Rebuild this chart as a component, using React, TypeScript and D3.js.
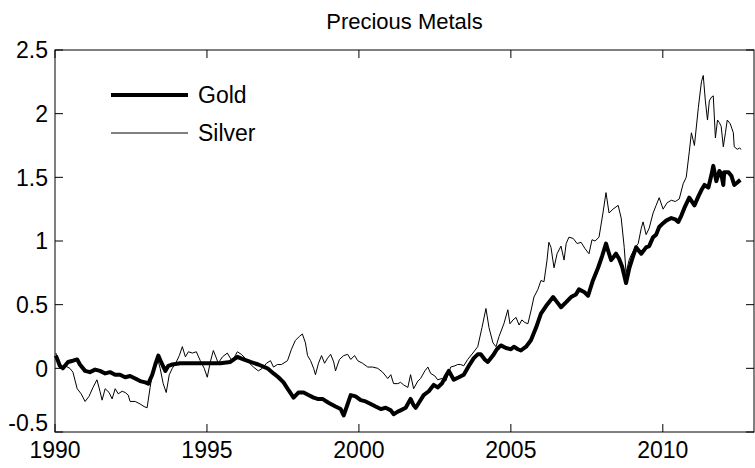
import { scaleLinear, line as d3_line, range } from "d3";

// Log price index (decimal year, value)
const goldYears = [
  1990.03, 1990.16, 1990.26, 1990.43, 1990.59, 1990.73, 1990.82, 1990.99, 1991.15, 1991.32,
  1991.48, 1991.65, 1991.81, 1991.98, 1992.14, 1992.31, 1992.47, 1992.64, 1992.8, 1992.97,
  1993.07, 1993.2, 1993.3, 1993.4, 1993.49, 1993.63, 1993.73, 1993.86, 1994.12, 1994.45,
  1994.78, 1995.11, 1995.44, 1995.77, 1996.0, 1996.2, 1996.43, 1996.69, 1996.99, 1997.19,
  1997.35, 1997.52, 1997.68, 1997.85, 1998.01, 1998.18, 1998.34, 1998.51, 1998.64, 1998.8,
  1999.0, 1999.23, 1999.4, 1999.5, 1999.63, 1999.73, 1999.89, 2000.06, 2000.22, 2000.39,
  2000.55, 2000.72, 2000.88, 2001.05, 2001.14, 2001.28, 2001.37, 2001.54, 2001.7, 2001.8,
  2001.87, 2002.0, 2002.13, 2002.3, 2002.46, 2002.59, 2002.73, 2002.86, 2002.96, 2003.12,
  2003.29, 2003.45, 2003.62, 2003.78, 2003.91, 2004.01, 2004.14, 2004.24, 2004.41, 2004.54,
  2004.67, 2004.84, 2005.0, 2005.1, 2005.23, 2005.33, 2005.5, 2005.66, 2005.83, 2005.99,
  2006.19, 2006.39, 2006.52, 2006.65, 2006.82, 2006.98, 2007.14, 2007.24, 2007.41, 2007.54,
  2007.7, 2007.87, 2008.0, 2008.13, 2008.23, 2008.3, 2008.4, 2008.46, 2008.56, 2008.66,
  2008.79, 2008.89, 2009.02, 2009.12, 2009.29, 2009.45, 2009.55, 2009.68, 2009.78, 2009.88,
  2010.01, 2010.11, 2010.28, 2010.41, 2010.51, 2010.61, 2010.71, 2010.87, 2011.04, 2011.17,
  2011.27, 2011.37, 2011.5, 2011.6, 2011.66, 2011.76, 2011.86, 2011.92, 2011.99, 2012.02,
  2012.16, 2012.26, 2012.35, 2012.45, 2012.55,
];
const goldValues = [
  0.1, 0.02, 0.0, 0.05, 0.06, 0.07, 0.03, -0.02, -0.03, -0.01,
  -0.02, -0.04, -0.03, -0.05, -0.05, -0.07, -0.06, -0.08, -0.1, -0.11,
  -0.12, -0.05, 0.03, 0.1, 0.05, -0.02, 0.02, 0.03, 0.04, 0.04,
  0.04, 0.04, 0.04, 0.05, 0.09, 0.07, 0.05, 0.03, 0.0, -0.04,
  -0.07, -0.11, -0.17, -0.23, -0.19, -0.19, -0.21, -0.23, -0.24, -0.24,
  -0.27, -0.3, -0.32, -0.37, -0.28, -0.21, -0.22, -0.25, -0.26, -0.28,
  -0.3, -0.32, -0.31, -0.33, -0.36, -0.34, -0.33, -0.31, -0.24, -0.29,
  -0.31, -0.26, -0.21, -0.18, -0.13, -0.15, -0.12, -0.06, -0.02, -0.09,
  -0.07, -0.05, 0.02, 0.08, 0.11, 0.11, 0.07, 0.05, 0.1, 0.15,
  0.18, 0.16, 0.15, 0.17, 0.15, 0.14, 0.17, 0.22, 0.32, 0.43,
  0.5, 0.56, 0.52, 0.48, 0.52, 0.56, 0.58, 0.62, 0.6, 0.57,
  0.69, 0.79, 0.88, 0.98, 0.9, 0.85, 0.88, 0.9, 0.86, 0.8,
  0.67, 0.78, 0.88, 0.95, 0.9, 0.95, 0.96, 1.03, 1.05, 1.11,
  1.14, 1.16, 1.18, 1.17, 1.15, 1.2, 1.26, 1.34, 1.28, 1.35,
  1.4, 1.44, 1.42, 1.52, 1.59, 1.47, 1.55, 1.53, 1.44, 1.54,
  1.54, 1.51, 1.44, 1.46, 1.48,
];

const silverYears = [
  1990.03, 1990.16, 1990.33, 1990.49, 1990.59, 1990.73, 1990.86, 1990.99, 1991.12, 1991.25,
  1991.38, 1991.48, 1991.55, 1991.65, 1991.78, 1991.88, 1991.98, 1992.08, 1992.21, 1992.31,
  1992.41, 1992.47, 1992.64, 1992.8, 1992.93, 1993.03, 1993.13, 1993.23, 1993.36, 1993.46,
  1993.56, 1993.66, 1993.76, 1993.86, 1993.99, 1994.09, 1994.19, 1994.29, 1994.39, 1994.52,
  1994.65, 1994.78, 1994.91, 1995.01, 1995.11, 1995.21, 1995.31, 1995.37, 1995.51, 1995.67,
  1995.77, 1995.84, 1995.93, 1996.0, 1996.13, 1996.26, 1996.4, 1996.53, 1996.69, 1996.82,
  1996.96, 1997.09, 1997.19, 1997.32, 1997.45, 1997.65, 1997.78, 1997.91, 1998.04, 1998.14,
  1998.24, 1998.31, 1998.41, 1998.51, 1998.57, 1998.67, 1998.77, 1998.87, 1998.97, 1999.07,
  1999.17, 1999.23, 1999.36, 1999.5, 1999.63, 1999.73, 1999.86, 1999.96, 2000.12, 2000.29,
  2000.45, 2000.62, 2000.78, 2000.95, 2001.05, 2001.14, 2001.28, 2001.37, 2001.47, 2001.61,
  2001.7, 2001.8, 2001.94, 2002.03, 2002.17, 2002.27, 2002.36, 2002.5, 2002.59, 2002.73,
  2002.86, 2003.02, 2003.16, 2003.25, 2003.35, 2003.45, 2003.58, 2003.75, 2003.91, 2004.05,
  2004.18, 2004.28, 2004.41, 2004.51, 2004.61, 2004.77, 2004.9, 2004.97, 2005.07, 2005.17,
  2005.27, 2005.36, 2005.46, 2005.56, 2005.66, 2005.76, 2005.89, 2005.99, 2006.09, 2006.19,
  2006.25, 2006.32, 2006.42, 2006.52, 2006.65, 2006.75, 2006.82, 2006.91, 2007.05, 2007.18,
  2007.31, 2007.44, 2007.57, 2007.67, 2007.77, 2007.9, 2008.03, 2008.13, 2008.23, 2008.36,
  2008.53, 2008.63, 2008.73, 2008.79, 2008.89, 2008.96, 2009.09, 2009.19, 2009.29, 2009.35,
  2009.45, 2009.55, 2009.68, 2009.78, 2009.88, 2010.01, 2010.14, 2010.28, 2010.41, 2010.54,
  2010.67, 2010.77, 2010.87, 2010.94, 2011.04, 2011.17, 2011.27, 2011.33, 2011.4, 2011.47,
  2011.53, 2011.6, 2011.66, 2011.73, 2011.8, 2011.86, 2011.92, 2011.99, 2012.06, 2012.12,
  2012.22, 2012.32, 2012.35, 2012.45, 2012.52, 2012.58,
];
const silverValues = [
  0.12, 0.0, 0.02, 0.0, -0.03, -0.16, -0.2, -0.26, -0.22, -0.15,
  -0.09, -0.18, -0.25, -0.16, -0.19, -0.24, -0.16, -0.2, -0.18, -0.19,
  -0.21, -0.26, -0.26, -0.28, -0.3, -0.31, -0.15, 0.0, 0.09, 0.0,
  -0.12, -0.19, -0.05, 0.0, 0.05, 0.1, 0.17, 0.09, 0.13, 0.12,
  0.13, 0.06, 0.0, -0.07, 0.05, 0.14, 0.08, 0.04, 0.09, 0.12,
  0.08, 0.05, 0.1, 0.13, 0.11, 0.08, 0.04, 0.01, -0.02, 0.0,
  0.04, 0.06, 0.01, 0.03, 0.03, 0.06, 0.15, 0.22, 0.25, 0.27,
  0.2, 0.1, 0.06, 0.0, -0.05, 0.04, 0.1, 0.04, 0.08, 0.11,
  0.05, -0.02, 0.07, 0.1, 0.11, 0.07, 0.1, 0.06, 0.04, 0.01,
  0.01, 0.0, -0.03, -0.08, -0.05, -0.12, -0.12, -0.11, -0.13, -0.15,
  -0.05, -0.16, -0.1, -0.08, -0.02, 0.01, -0.04, -0.06, -0.09, -0.08,
  -0.1, 0.01, 0.02, 0.03, 0.03, 0.02, 0.07, 0.12, 0.17, 0.32,
  0.47, 0.32, 0.2, 0.17, 0.25, 0.35, 0.46, 0.35, 0.38, 0.4,
  0.34, 0.38, 0.36, 0.35, 0.45, 0.56, 0.62, 0.69, 0.68, 0.85,
  0.99, 0.95, 0.79, 0.9, 0.96, 0.85, 0.98, 1.03, 1.02, 0.98,
  0.99, 0.94, 0.9, 1.01, 1.0, 1.03, 1.22, 1.38, 1.22, 1.25,
  1.28, 1.18, 0.95, 0.75, 0.85, 0.89, 0.95, 0.98, 1.1, 1.15,
  1.05, 1.1, 1.22, 1.28, 1.34, 1.25, 1.3, 1.32, 1.31, 1.33,
  1.45, 1.5, 1.7, 1.85, 1.75, 2.05, 2.25, 2.3, 2.1, 1.95,
  2.1, 2.13, 2.14, 1.81, 1.95, 1.93, 1.9, 1.74, 1.85, 1.95,
  1.92, 1.85, 1.74, 1.72, 1.73, 1.72,
];

const xTicks = [1990, 1995, 2000, 2005, 2010];
const yTicks = [-0.5, 0, 0.5, 1, 1.5, 2, 2.5];
const title = "Precious Metals";
const legendLabels = ["Gold", "Silver"];

const W = 755;
const H = 468;
const m = { left: 55, right: 1, top: 50, bottom: 36 };
const FONT = "'Liberation Sans', Arial, Helvetica, sans-serif";

export default function App() {
  const x = scaleLinear().domain([1990, 2013]).range([m.left, W - m.right]);
  const y = scaleLinear().domain([-0.5, 2.5]).range([H - m.bottom, m.top]);
  const x0 = m.left;
  const x1 = W - m.right;
  const y0 = H - m.bottom;
  const y1 = m.top;
  const tickLen = 8;

  const mk = (years: number[], vals: number[]) =>
    d3_line<number>()
      .x((i) => x(years[i]))
      .y((i) => y(vals[i]))(range(years.length)) ?? "";

  const goldPath = mk(goldYears, goldValues);
  const silverPath = mk(silverYears, silverValues);

  return (
    <svg
      width={W}
      height={H}
      style={{ position: "absolute", left: 0, top: 0, background: "#fff" }}
      fontFamily={FONT}
    >
      <rect width={W} height={H} fill="#fff" />
      <text x={(x0 + x1) / 2} y={29} textAnchor="middle" fontSize={22}>
        {title}
      </text>

      {/* series */}
      <path d={silverPath} fill="none" stroke="#000" strokeWidth={1} />
      <path d={goldPath} fill="none" stroke="#000" strokeWidth={4} strokeLinejoin="round" />

      {/* box + ticks */}
      <rect x={x0} y={y1} width={x1 - x0} height={y0 - y1} fill="none" stroke="#000" strokeWidth={1} />
      {xTicks.map((t) => (
        <g key={t}>
          <line x1={x(t)} x2={x(t)} y1={y0} y2={y0 - tickLen} stroke="#000" />
          <line x1={x(t)} x2={x(t)} y1={y1} y2={y1 + tickLen} stroke="#000" />
          <text x={x(t)} y={y0 + 26} textAnchor="middle" fontSize={23}>
            {t}
          </text>
        </g>
      ))}
      {yTicks.map((t, i) => (
        <g key={t}>
          <line x1={x0} x2={x0 + tickLen} y1={y(t)} y2={y(t)} stroke="#000" />
          <line x1={x1} x2={x1 - tickLen} y1={y(t)} y2={y(t)} stroke="#000" />
          <text x={x0 - 7} y={i === 0 ? y(t) - 1 : y(t)} dy={i === 0 ? "0" : "0.36em"} textAnchor="end" fontSize={23}>
            {t}
          </text>
        </g>
      ))}

      {/* legend */}
      {legendLabels.map((lab, i) => {
        const ly = 95 + i * 38;
        return (
          <g key={lab}>
            <line x1={111} x2={188} y1={ly} y2={ly} stroke="#000" strokeWidth={i === 0 ? 4 : 1} />
            <text x={198} y={ly} dy="0.36em" fontSize={23}>
              {lab}
            </text>
          </g>
        );
      })}
    </svg>
  );
}
